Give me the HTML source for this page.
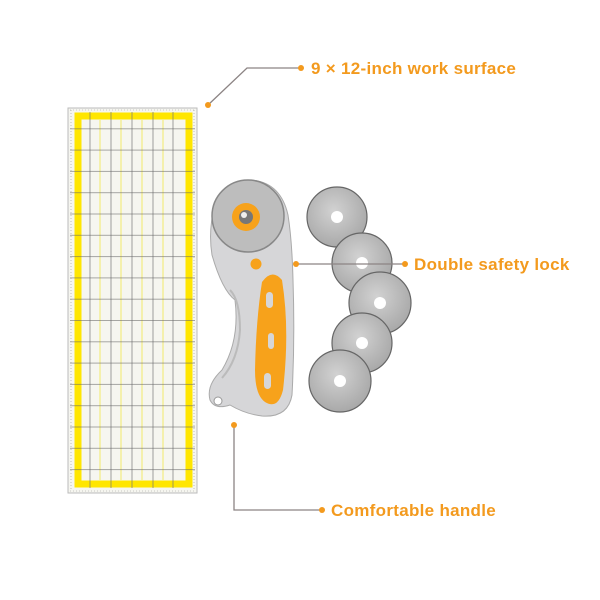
<!DOCTYPE html>
<html><head><meta charset="utf-8"><style>
html,body{margin:0;padding:0;background:#fff}
svg{display:block}
text{font-family:"Liberation Sans",sans-serif;font-weight:bold;fill:#f39a1e;font-size:17px;letter-spacing:0.3px}
</style></head><body>
<svg width="600" height="600" viewBox="0 0 600 600" xmlns="http://www.w3.org/2000/svg">
<defs>
<pattern id="h" x="0" y="107" width="10" height="21.3" patternUnits="userSpaceOnUse">
<line x1="0" y1="0.5" x2="10" y2="0.5" stroke="#666" stroke-width="0.8"/>
</pattern>
<radialGradient id="bl" cx="0.45" cy="0.4" r="0.6"><stop offset="0" stop-color="#d2d2d2"/><stop offset="1" stop-color="#a9a9a9"/></radialGradient>
</defs>
<rect x="68" y="108" width="129" height="385" fill="#f6f6f0" stroke="#bbb" stroke-width="1"/>
<rect x="78" y="116" width="111" height="368" fill="none" stroke="#ffe600" stroke-width="7"/>
<g stroke="#f3e96a" stroke-width="1">
<line x1="100" y1="120" x2="100" y2="480"/><line x1="121" y1="120" x2="121" y2="480"/><line x1="142" y1="120" x2="142" y2="480"/><line x1="163" y1="120" x2="163" y2="480"/>
</g>
<g stroke="#777" stroke-width="0.7">
<line x1="90" y1="112" x2="90" y2="488"/><line x1="111" y1="112" x2="111" y2="488"/><line x1="132" y1="112" x2="132" y2="488"/><line x1="153" y1="112" x2="153" y2="488"/><line x1="173" y1="112" x2="173" y2="488"/>
</g>
<rect x="70" y="118" width="125" height="370" fill="url(#h)" opacity="0.7"/>
<g stroke="#999" stroke-width="0.6" stroke-dasharray="1 2">
<line x1="71" y1="110" x2="71" y2="491"/><line x1="194" y1="110" x2="194" y2="491"/>
<line x1="70" y1="110" x2="195" y2="110"/><line x1="70" y1="491" x2="195" y2="491"/>
</g>
<g fill="url(#bl)" stroke="#666" stroke-width="1.2">
<circle cx="337" cy="217" r="30"/>
<circle cx="362" cy="263" r="30"/>
<circle cx="380" cy="303" r="31"/>
<circle cx="362" cy="343" r="30"/>
<circle cx="340" cy="381" r="31"/>
</g>
<g fill="#fff">
<circle cx="337" cy="217" r="6"/><circle cx="362" cy="263" r="6"/><circle cx="380" cy="303" r="6"/><circle cx="362" cy="343" r="6"/><circle cx="340" cy="381" r="6"/>
</g>
<path d="M215,205 Q222,185 247,180 Q280,180 288,215 Q292,240 293,280 Q295,340 292,395 Q288,418 262,416 Q245,414 230,405 Q215,410 210,400 Q206,385 222,370 Q240,340 235,300 Q222,290 212,255 Q208,230 215,205Z" fill="#d6d6d8" stroke="#aaa" stroke-width="1"/>
<path d="M230,290 Q240,300 240,330 Q238,360 222,378" fill="none" stroke="#bbb" stroke-width="2"/>
<circle cx="248" cy="216" r="36" fill="#bdbdbd" stroke="#888" stroke-width="1.5"/>
<circle cx="246" cy="217" r="14" fill="#f7a21b"/>
<circle cx="246" cy="217" r="7" fill="#777"/>
<circle cx="244" cy="215" r="3" fill="#eee"/>
<circle cx="256" cy="264" r="5.5" fill="#f7a21b"/>
<path d="M262,282 Q272,268 282,280 Q290,330 283,390 Q278,410 265,402 Q255,395 255,370 Q256,320 262,282Z" fill="#f7a21b"/>
<g fill="#d6d6d8"><rect x="266" y="292" width="7" height="16" rx="3.5"/><rect x="268" y="333" width="6" height="16" rx="3"/><rect x="264" y="373" width="7" height="16" rx="3.5"/></g>
<circle cx="218" cy="401" r="4" fill="#fff" stroke="#999"/>
<g stroke="#8c8484" stroke-width="1.3" fill="none">
<polyline points="208,105 247,68 301,68"/>
<line x1="296" y1="264" x2="405" y2="264"/>
<polyline points="234,425 234,510 322,510"/>
</g>
<g fill="#f39a1e">
<circle cx="208" cy="105" r="3"/><circle cx="301" cy="68" r="3"/>
<circle cx="296" cy="264" r="3"/><circle cx="405" cy="264" r="3"/>
<circle cx="234" cy="425" r="3"/><circle cx="322" cy="510" r="3"/>
</g>
<text x="311" y="74">9 × 12-inch work surface</text>
<text x="414" y="270">Double safety lock</text>
<text x="331" y="516">Comfortable handle</text>
</svg>
</body></html>
